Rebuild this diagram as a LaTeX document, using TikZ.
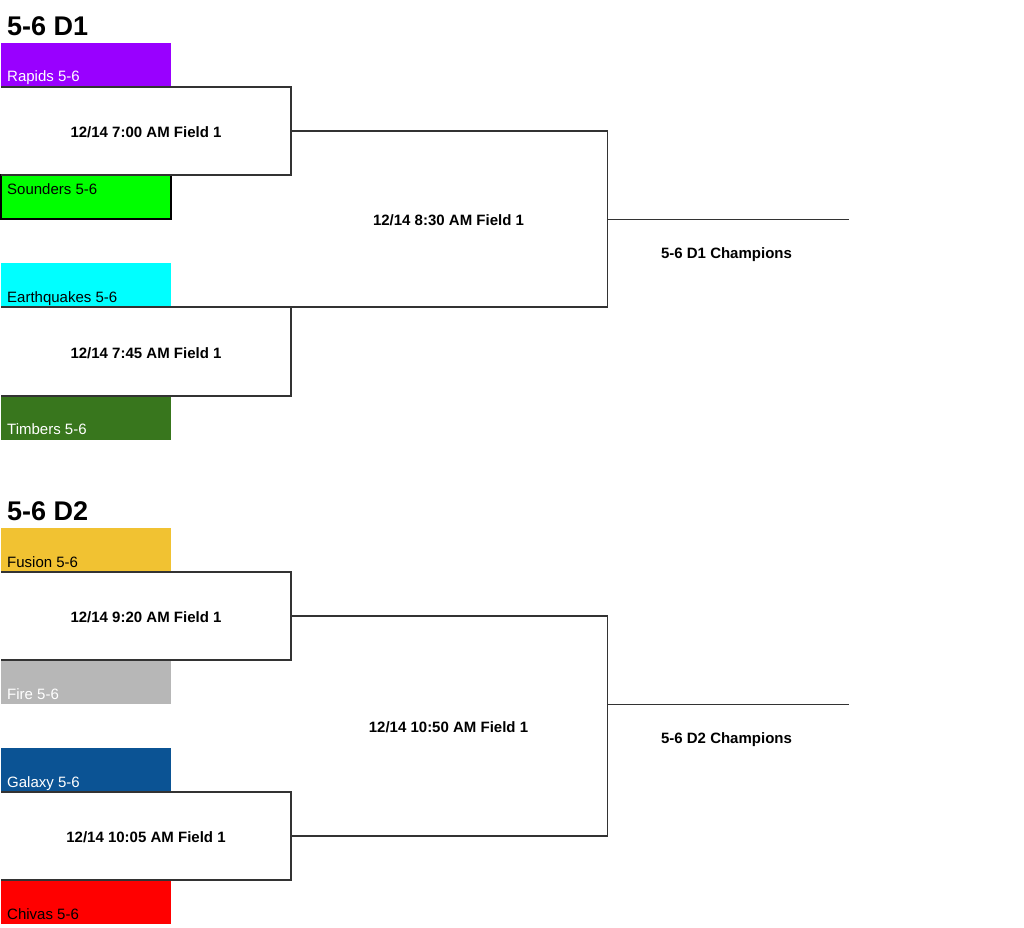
\documentclass[tikz,border=0pt]{standalone}
\usepackage{fontspec}
\setmainfont{Liberation Sans}
\usetikzlibrary{calc}
\definecolor{cRapids}{HTML}{9900FF}
\definecolor{cSounders}{HTML}{00FF00}
\definecolor{cQuakes}{HTML}{00FFFF}
\definecolor{cTimbers}{HTML}{38761D}
\definecolor{cFusion}{HTML}{F1C232}
\definecolor{cFire}{HTML}{B7B7B7}
\definecolor{cGalaxy}{HTML}{0B5394}
\definecolor{cChivas}{HTML}{FF0000}
\definecolor{cLine}{HTML}{333333}
\tikzset{
  teambox/.style={rectangle, inner sep=0pt, outer sep=0pt, minimum width=170pt, minimum height=44pt, anchor=north west},
  matchbox/.style={rectangle, inner sep=0pt, outer sep=0pt, anchor=north west},
  teamtxt/.style={inner sep=0pt, anchor=base west, font=\fontsize{15}{18}\selectfont},
  gametxt/.style={inner sep=0pt, anchor=base, font=\fontsize{15}{18}\selectfont\bfseries},
  titletxt/.style={inner sep=0pt, anchor=base west, font=\fontsize{27}{32}\selectfont\bfseries},
  bracket/.style={draw=cLine, line width=1.3pt},
}
\begin{document}
\begin{tikzpicture}[x=1pt,y=-1pt]
\useasboundingbox[fill=white] (0,0) rectangle (1024,927);

% ---------------- D1 ----------------
\node[titletxt] (title1) at (7,35) {5-6 D1};

\node[teambox, fill=cRapids] (rapids) at (1,43) {};
\node[matchbox, minimum width=290pt, minimum height=88pt] (m1) at (1,87) {};
\node[teambox, fill=cSounders, draw=black, line width=1.2pt] (sounders) at (1,175) {};
\node[teambox, fill=cQuakes] (quakes) at (1,263) {};
\node[matchbox, minimum width=290pt, minimum height=89pt] (m2) at (1,307) {};
\node[teambox, fill=cTimbers] (timbers) at (1,396) {};
\node[matchbox, minimum width=316.5pt, minimum height=176pt] (f1) at (291,131) {};
\coordinate (c1) at (848.5,219.3);

\node[teamtxt, text=white] (tRapids) at ($(rapids.south west)+(6,-6)$) {Rapids 5-6};
\node[teamtxt, text=black] (tSounders) at ($(sounders.north west)+(6,19)$) {Sounders 5-6};
\node[teamtxt, text=black] (tQuakes) at ($(quakes.south west)+(6,-5)$) {Earthquakes 5-6};
\node[teamtxt, text=white] (tTimbers) at ($(timbers.south west)+(6,-6)$) {Timbers 5-6};

\draw[bracket] (m1.north west) -| (m1.south east) -- (m1.south west);
\draw[bracket] (m2.north west) -| (m2.south east) -- (m2.south west);
\draw[bracket] (m1.east) -| (f1.south east) -- (m2.north east);
\draw[bracket] (f1.east |- c1) -- (c1);

\node[gametxt] (g1) at (146,137) {12/14 7:00 AM Field 1};
\node[gametxt] (g2) at (146,358) {12/14 7:45 AM Field 1};
\node[gametxt] (g3) at (448.5,225) {12/14 8:30 AM Field 1};
\node[gametxt] (champ1) at (726.5,258) {5-6 D1 Champions};

% ---------------- D2 ----------------
\node[titletxt] (title2) at (7,520) {5-6 D2};

\node[teambox, fill=cFusion] (fusion) at (1,528) {};
\node[matchbox, minimum width=290pt, minimum height=88pt] (m3) at (1,572) {};
\node[teambox, fill=cFire] (fire) at (1,660) {};
\node[teambox, fill=cGalaxy] (galaxy) at (1,748) {};
\node[matchbox, minimum width=290pt, minimum height=88pt] (m4) at (1,792) {};
\node[teambox, fill=cChivas] (chivas) at (1,880) {};
\node[matchbox, minimum width=316.5pt, minimum height=220pt] (f2) at (291,616) {};
\coordinate (c2) at (848.5,704.3);

\node[teamtxt, text=black] (tFusion) at ($(fusion.south west)+(6,-5)$) {Fusion 5-6};
\node[teamtxt, text=white] (tFire) at ($(fire.south west)+(6,-5)$) {Fire 5-6};
\node[teamtxt, text=white] (tGalaxy) at ($(galaxy.south west)+(6,-5)$) {Galaxy 5-6};
\node[teamtxt, text=black] (tChivas) at ($(chivas.south west)+(6,-5)$) {Chivas 5-6};

\draw[bracket] (m3.north west) -| (m3.south east) -- (m3.south west);
\draw[bracket] (m4.north west) -| (m4.south east) -- (m4.south west);
\draw[bracket] (m3.east) -| (f2.south east) -- (m4.east);
\draw[bracket] (f2.east |- c2) -- (c2);

\node[gametxt] (g4) at (146,622) {12/14 9:20 AM Field 1};
\node[gametxt] (g5) at (146,842) {12/14 10:05 AM Field 1};
\node[gametxt] (g6) at (448.5,732) {12/14 10:50 AM Field 1};
\node[gametxt] (champ2) at (726.5,743) {5-6 D2 Champions};
\end{tikzpicture}
\end{document}
